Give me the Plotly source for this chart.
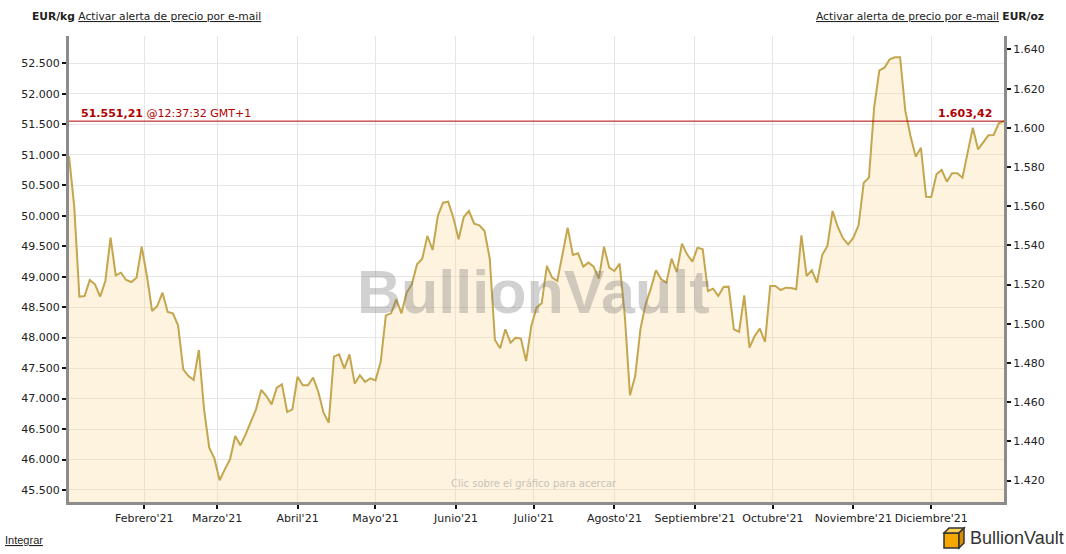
import pandas as pd
import plotly.graph_objects as go

# ---------------- data ----------------
start_date = "2021-01-03"
sample_step = "2D"
eur_kg = [
    50980, 50159, 48672, 48683, 48945, 48874, 48672, 48929, 49640, 49022,
    49065, 48945, 48912, 48983, 49492, 49011, 48437, 48519, 48737, 48420,
    48398, 48201, 47479, 47370, 47304, 47797, 46823, 46194, 46014, 45658,
    45839, 46003, 46386, 46233, 46413, 46604, 46823, 47140, 47042, 46905,
    47179, 47233, 46779, 46823, 47359, 47217, 47217, 47343, 47108, 46768,
    46604, 47687, 47726, 47490, 47726, 47244, 47381, 47272, 47332, 47299,
    47600, 48365, 48398, 48628, 48398, 48737, 48874, 49202, 49295, 49667,
    49437, 49995, 50214, 50230, 49968, 49612, 49979, 50077, 49869, 49842,
    49749, 49295, 47961, 47824, 48136, 47917, 47999, 47983, 47616, 48190,
    48491, 48562, 49175, 48983, 48929, 49366, 49804, 49355, 49383, 49164,
    49230, 49164, 48967, 49492, 49147, 49093, 49213, 48354, 47053, 47370,
    48136, 48546, 48803, 49104, 48956, 48901, 49295, 49076, 49541, 49366,
    49246, 49476, 49448, 48765, 48803, 48683, 48830, 48836, 48136, 48097,
    48694, 47835, 48026, 48147, 47928, 48847, 48847, 48781, 48819, 48814,
    48792, 49678, 49011, 49104, 48901, 49355, 49503, 50077, 49815, 49629,
    49530, 49640, 49842, 50542, 50624, 51773, 52385, 52429, 52566, 52598,
    52598, 51718, 51308, 50969, 51116, 50312, 50307, 50679, 50750, 50559,
    50695, 50695, 50624, 51034, 51444, 51089, 51198, 51319, 51324, 51516,
    51551.21,
]
month_ticks = ["2021-02-01", "2021-03-01", "2021-04-01", "2021-05-01", "2021-06-01",
               "2021-07-01", "2021-08-01", "2021-09-01", "2021-10-01", "2021-11-01",
               "2021-12-01"]
month_labels = ["Febrero'21", "Marzo'21", "Abril'21", "Mayo'21", "Junio'21", "Julio'21",
                "Agosto'21", "Septiembre'21", "Octubre'21", "Noviembre'21", "Diciembre'21"]
latest_price = 51551.21
latest_time = "12:37:32 GMT+1"
KG_TO_OZ = 32.1507466
y_range_kg = [45303, 52948]

# ---------------- helpers ----------------
W, H = 1066, 554
L, R, T, B = 69, 62, 36, 52
PW, PH = W - L - R, H - T - B


def px(x):
    return (x - L) / PW


def py(y):
    return (H - B - y) / PH


def es(v, d):
    s = f"{v:,.{d}f}"
    return s.replace(",", "#").replace(".", ",").replace("#", ".")


dates = pd.date_range(start_date, periods=len(eur_kg), freq=sample_step)
eur_oz = [v / KG_TO_OZ for v in eur_kg]

fig = go.Figure()
fig.add_trace(go.Scatter(
    x=dates, y=eur_kg, mode="lines",
    line=dict(color="#c4a64e", width=2),
    fill="tozeroy", fillcolor="rgba(247,214,150,0.30)",
    hoverinfo="x+y", showlegend=False,
))
fig.add_trace(go.Scatter(
    x=dates, y=eur_oz, yaxis="y2", mode="lines",
    line=dict(width=0, color="rgba(0,0,0,0)"), hoverinfo="skip", showlegend=False,
))

fig.add_shape(type="line", xref="paper", x0=0, x1=1, yref="y",
              y0=latest_price, y1=latest_price, line=dict(color="#b00000", width=1))

tick_font = dict(family="DejaVu Sans", size=11, color="#222")
axis_common = dict(
    showline=True, linecolor="#8c8c8c", linewidth=3,
    ticks="outside", ticklen=4, tickwidth=2, tickcolor="#111",
    tickfont=tick_font, zeroline=False,
)

fig.update_layout(
    width=W, height=H,
    margin=dict(l=L, r=R, t=T, b=B, pad=0),
    paper_bgcolor="white", plot_bgcolor="white",
    separators=",.",
    showlegend=False,
    xaxis=dict(
        type="date", range=[dates[0], dates[-1]],
        tickmode="array", tickvals=month_ticks, ticktext=month_labels,
        showgrid=True, gridcolor="#e6e6e6", gridwidth=1,
        **axis_common,
    ),
    yaxis=dict(
        range=y_range_kg, tick0=0, dtick=500, tickformat=",d",
        showgrid=True, gridcolor="#e6e6e6", gridwidth=1,
        **axis_common,
    ),
    yaxis2=dict(
        overlaying="y", side="right",
        range=[v / KG_TO_OZ for v in y_range_kg], tick0=0, dtick=20, tickformat=",d",
        showgrid=False,
        **axis_common,
    ),
)

ann = []
hdr_font = dict(family="DejaVu Sans", size=10.7, color="#222")
ann.append(dict(xref="paper", yref="paper", x=px(30), y=py(17), xanchor="left", yanchor="middle",
                text="<b>EUR/kg</b> <u>Activar alerta de precio por e-mail</u>",
                showarrow=False, font=hdr_font))
ann.append(dict(xref="paper", yref="paper", x=px(1046), y=py(17), xanchor="right", yanchor="middle",
                text="<u>Activar alerta de precio por e-mail</u> <b>EUR/oz</b>",
                showarrow=False, font=hdr_font))
red_font = dict(family="DejaVu Sans", size=11, color="#b00000")
ann.append(dict(xref="paper", yref="y", x=px(79), y=latest_price, xanchor="left", yanchor="bottom",
                yshift=-1,
                text=f"<b>{es(latest_price, 2)}</b> @{latest_time}",
                showarrow=False, font=red_font))
ann.append(dict(xref="paper", yref="y", x=px(994), y=latest_price, xanchor="right", yanchor="bottom",
                yshift=-1,
                text=f"<b>{es(latest_price / KG_TO_OZ, 2)}</b>",
                showarrow=False, font=red_font))
ann.append(dict(xref="paper", yref="paper", x=px(533), y=py(292), xanchor="center", yanchor="middle",
                text="<b>BullionVault</b>", showarrow=False,
                font=dict(family="Liberation Sans", size=61, color="rgba(120,120,120,0.34)")))
ann.append(dict(xref="paper", yref="paper", x=px(534), y=py(483), xanchor="center", yanchor="middle",
                text="Clic sobre el gráfico para acercar", showarrow=False,
                font=dict(family="DejaVu Sans", size=10, color="#c9c3b8")))
ann.append(dict(xref="paper", yref="paper", x=px(3), y=py(540), xanchor="left", yanchor="middle",
                text="<u>Integrar</u>", showarrow=False,
                font=dict(family="Liberation Sans", size=11, color="#222")))
ann.append(dict(xref="paper", yref="paper", x=px(968), y=py(538), xanchor="left", yanchor="middle",
                text="BullionVault", showarrow=False,
                font=dict(family="Liberation Sans", size=18, color="#333")))
fig.update_layout(annotations=ann)

# logo cube
fig.add_shape(type="rect", xref="paper", yref="paper", x0=px(944), x1=px(959), y0=py(548), y1=py(533),
              fillcolor="#f5a800", line=dict(color="#333", width=1.5))
fig.add_shape(type="path", xref="paper", yref="paper",
              path=f"M {px(944)},{py(533)} L {px(949)},{py(528)} L {px(964)},{py(528)} L {px(959)},{py(533)} Z",
              fillcolor="#ffd04d", line=dict(color="#333", width=1.5))
fig.add_shape(type="path", xref="paper", yref="paper",
              path=f"M {px(959)},{py(533)} L {px(964)},{py(528)} L {px(964)},{py(543)} L {px(959)},{py(548)} Z",
              fillcolor="#d98e00", line=dict(color="#333", width=1.5))

fig.write_html("out.html", config={"displayModeBar": False},
               post_script="document.body.style.margin='0';")
